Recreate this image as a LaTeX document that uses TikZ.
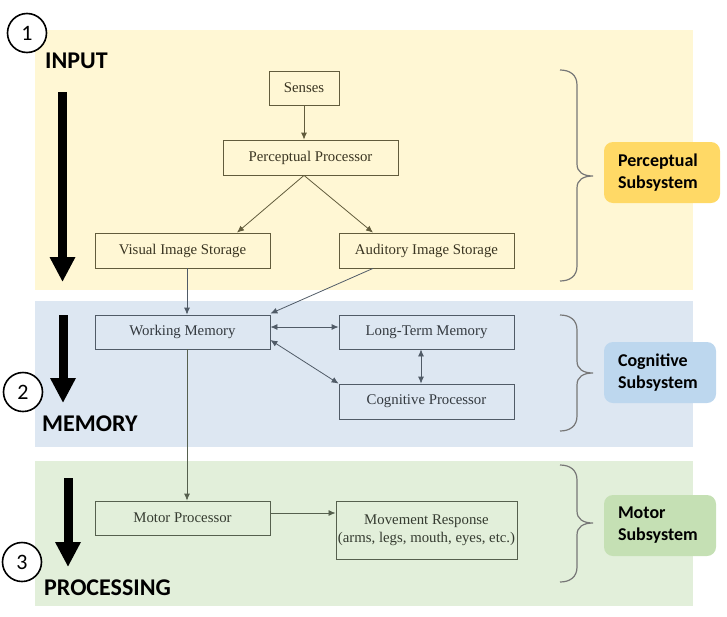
\documentclass[tikz,border=0pt]{standalone}
\usepackage{fontspec}
\setmainfont{Liberation Serif}
\newfontfamily\calib{Carlito}
\usetikzlibrary{arrows.meta,calc}
\definecolor{bandY}{HTML}{FFF7D4}
\definecolor{bandB}{HTML}{DDE7F2}
\definecolor{bandG}{HTML}{E2EFDA}
\definecolor{subY}{HTML}{FFD966}
\definecolor{subB}{HTML}{BDD7EE}
\definecolor{subG}{HTML}{C5E0B4}
\definecolor{lineY}{HTML}{625C3C}
\definecolor{lineB}{HTML}{505B67}
\definecolor{lineG}{HTML}{56604E}
\definecolor{txtY}{HTML}{3A3522}
\definecolor{txtB}{HTML}{33393F}
\definecolor{txtG}{HTML}{353B30}
\definecolor{bracec}{HTML}{777777}
\newcommand\sidebrace[3]{%
  \draw[bracestyle] (560,#1) .. controls (570,#1) and (577,#1+5) .. (577,#1+15)
    -- (577,#2-12) .. controls (577,#2-4) and (583,#2) .. (593,#2)
    .. controls (583,#2) and (577,#2+4) .. (577,#2+12)
    -- (577,#3-15) .. controls (577,#3-5) and (570,#3) .. (560,#3);}
\begin{document}
\begin{tikzpicture}[x=1pt,y=-1pt,
  box/.style={draw, line width=0.8pt, rectangle, inner sep=2pt,
    font=\fontsize{14.8}{17.8}\selectfont, minimum height=35pt, minimum width=175pt},
  boxY/.style={box, draw=lineY, text=txtY},
  boxB/.style={box, draw=lineB, text=txtB},
  boxG/.style={box, draw=lineG, text=txtG},
  conn/.style={line width=0.8pt, -{Latex[length=7pt,width=6pt]}},
  dconn/.style={line width=0.8pt, {Latex[length=7pt,width=6pt]}-{Latex[length=7pt,width=6pt]}},
  bigarrow/.style={line width=9pt, -{Triangle[length=25pt,width=24pt]}},
  stage/.style={inner sep=0pt, anchor=west, font=\calib\bfseries\fontsize{24}{28}\selectfont},
  num/.style={circle, draw=black, line width=1.6pt, fill=white, minimum size=39pt,
    inner sep=0pt, font=\calib\fontsize{22}{26}\selectfont},
  sub/.style={rectangle, rounded corners=9pt, minimum height=61pt, align=left,
    inner xsep=14pt, font=\calib\bfseries\fontsize{18}{22}\selectfont},
  bracestyle/.style={draw=bracec, line width=1.2pt}]
\useasboundingbox (0,0) rectangle (727,616);
% bands
\fill[bandY] (35,30) rectangle (693,290);
\fill[bandB] (35,301) rectangle (693,447);
\fill[bandG] (35,461) rectangle (693,606);
% perceptual boxes
\node[boxY, minimum width=70pt, minimum height=34pt] (sen) at (304,88) {Senses};
\node[boxY] (pp) at (310.5,157.5) {Perceptual Processor};
\node[boxY] (vis) at (182.5,250.5) {Visual Image Storage};
\node[boxY] (aud) at (426.5,250.5) {Auditory Image Storage};
% cognitive boxes
\node[boxB, minimum height=34pt] (wm) at (182.5,332) {Working Memory};
\node[boxB, minimum height=34pt] (ltm) at (426.5,332) {Long-Term Memory};
\node[boxB] (cp) at (426.5,401.5) {Cognitive Processor};
% motor boxes
\node[boxG, minimum height=34pt] (mp) at (182.5,518) {Motor Processor};
\node[boxG, minimum height=58pt] (mr) at (426.5,530) {\raisebox{12pt}{\begin{tabular}{@{}c@{}}Movement Response\\(arms, legs, mouth, eyes, etc.)\end{tabular}}};
% connectors
\coordinate (mpo) at ([yshift=5pt]mp.east);
\draw[conn, draw=lineY] (sen.south) -- (pp.north -| sen.south);
\draw[conn, draw=lineY] (pp.south -| sen.south) -- ([xshift=54.5pt]vis.north);
\draw[conn, draw=lineY] (pp.south -| sen.south) -- ([xshift=-53.5pt]aud.north);
\draw[conn, draw=lineB] ([xshift=4.5pt]vis.south) -- ([xshift=4.5pt]wm.north);
\draw[conn, draw=lineB] ([xshift=-53.5pt]aud.south) -- ([yshift=1pt]wm.north east);
\draw[dconn, draw=lineB] ([yshift=5pt]wm.east) -- ([yshift=5pt]ltm.west);
\draw[dconn, draw=lineB] ([yshift=-8pt]wm.east) -- (cp.north west);
\draw[dconn, draw=lineB] ([xshift=-5.5pt]ltm.south) -- ([xshift=-5.5pt]cp.north);
\draw[conn, draw=lineG] ([xshift=4.5pt]wm.south) -- ([xshift=4.5pt]mp.north);
\draw[conn, draw=lineG] (mpo) -- (mr.west |- mpo);
% big arrows
\coordinate (a1s) at (62.5,92);  \coordinate (a1e) at (62.5,282);
\coordinate (a2s) at (63,315);   \coordinate (a2e) at (63,403);
\coordinate (a3s) at (68,478);   \coordinate (a3e) at (68,567);
\draw[bigarrow] (a1s) -- (a1e);
\draw[bigarrow] (a2s) -- (a2e);
\draw[bigarrow] (a3s) -- (a3e);
% stage labels
\node[stage] (inp) at (45,60.5) {INPUT};
\node[stage] (mem) at (42,423.5) {MEMORY};
\node[stage] (proc) at (44,588) {PROCESSING};
\node[num] (c1) at (27,33) {1};
\node[num] (c2) at (23,392) {2};
\node[num] (c3) at (22,562) {3};
% braces
\sidebrace{70}{176}{281}
\sidebrace{315}{373}{431}
\sidebrace{465}{523}{582}
% subsystem labels
\node[sub, fill=subY, text width=88pt] (ps) at (662,172.5) {Perceptual\\Subsystem};
\node[sub, fill=subB, text width=84pt] (cs) at (660,372.5) {Cognitive\\Subsystem};
\node[sub, fill=subG, text width=84pt] (ms) at (660,525.5) {Motor\\Subsystem};
\end{tikzpicture}
\end{document}
